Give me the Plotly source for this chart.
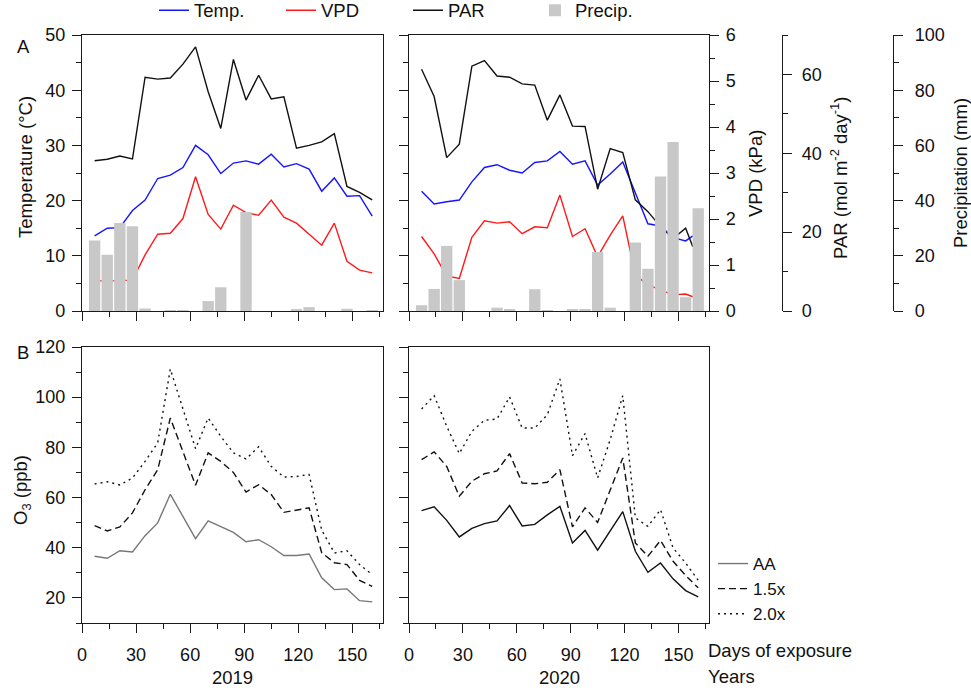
import plotly.graph_objects as go

# ---------------- data ----------------
days = [7, 14, 21, 28, 35, 42, 49, 56, 63, 70, 77, 84, 91, 98, 105, 112, 119, 126, 133, 140, 147, 154, 161]
days_met_2020 = [7, 14, 21, 28, 35, 42, 49, 56, 63, 70, 77, 84, 91, 98, 105, 112, 119, 126, 133, 140, 147, 154, 158]

temp_2019 = [13.6, 15.0, 15.1, 18.2, 20.1, 24.0, 24.6, 26.0, 30.0, 28.3, 24.9, 26.8, 27.2, 26.6, 28.4, 26.1, 26.7, 25.7, 21.7, 24.1, 20.8, 20.9, 17.2]
vpd_2019 = [0.66, 0.65, 0.66, 0.67, 1.22, 1.67, 1.69, 2.01, 2.92, 2.10, 1.78, 2.30, 2.14, 2.08, 2.41, 2.04, 1.91, 1.66, 1.43, 1.91, 1.08, 0.89, 0.83]
par_2019 = [38.1, 38.5, 39.3, 38.6, 59.3, 58.8, 59.1, 62.6, 67.0, 55.6, 46.3, 63.8, 53.5, 59.8, 53.8, 54.3, 41.3, 42.0, 42.9, 45.0, 31.6, 30.1, 28.2]
precip_2019 = [25.5, 20.4, 31.9, 30.7, 0.9, 0, 0.3, 0.3, 0, 3.6, 8.6, 0, 35.9, 0, 0, 0, 0.6, 1.4, 0, 0, 0.8, 0, 0.3]

temp_2020 = [21.7, 19.4, 19.8, 20.1, 23.4, 26.0, 26.5, 25.5, 25.0, 26.9, 27.2, 28.9, 26.6, 27.2, 22.8, 24.8, 27.0, 21.4, 15.8, 15.4, 13.3, 12.7, 13.6]
vpd_2020 = [1.62, 1.24, 0.76, 0.71, 1.60, 1.96, 1.91, 1.94, 1.68, 1.83, 1.81, 2.52, 1.62, 1.79, 1.18, 1.65, 2.07, 0.78, 0.57, 0.46, 0.35, 0.37, 0.31]
par_2020 = [61.3, 54.4, 38.9, 42.3, 62.1, 63.5, 59.6, 59.3, 57.6, 57.3, 48.4, 54.8, 46.9, 46.8, 30.9, 41.2, 40.2, 28.2, 25.2, 21.4, 18.4, 21.0, 16.3]
precip_2020 = [2.1, 8.0, 23.6, 11.2, 0, 0, 1.2, 0.5, 0, 7.9, 0.3, 0, 0.6, 0.7, 21.4, 1.2, 0, 24.8, 15.3, 48.7, 61.2, 5.0, 37.2]

o3_aa_2019 = [36.6, 35.8, 38.8, 38.3, 44.8, 49.9, 61.3, 52.5, 43.6, 50.7, 48.3, 46.1, 42.4, 43.2, 40.4, 36.9, 36.9, 37.5, 28.0, 23.3, 23.6, 18.9, 18.4]
o3_15_2019 = [48.8, 46.7, 48.3, 53.9, 63.1, 71.1, 91.7, 78.3, 64.9, 77.8, 74.4, 70.0, 62.2, 65.1, 61.2, 54.1, 54.9, 55.9, 38.0, 34.0, 33.3, 27.0, 24.6]
o3_20_2019 = [65.4, 66.3, 65.0, 67.8, 74.4, 81.8, 111.2, 95.0, 79.5, 91.7, 84.4, 77.8, 75.4, 80.2, 72.4, 68.2, 68.4, 69.2, 47.0, 37.9, 38.8, 33.3, 29.3]

o3_aa_2020 = [54.8, 56.3, 50.9, 44.3, 47.7, 49.6, 50.7, 56.8, 48.7, 49.3, 53.1, 56.5, 41.9, 46.9, 39.0, 46.5, 54.4, 38.6, 30.2, 33.9, 27.6, 22.9, 20.4]
o3_15_2020 = [75.1, 78.2, 72.4, 60.5, 66.5, 69.5, 70.6, 77.5, 65.8, 65.5, 66.1, 71.1, 48.3, 55.9, 50.1, 62.9, 75.8, 41.9, 36.6, 42.9, 34.6, 28.9, 24.0]
o3_20_2020 = [95.3, 100.6, 88.4, 77.5, 86.4, 90.8, 91.3, 100.1, 87.7, 87.7, 93.0, 107.3, 76.7, 85.5, 67.8, 83.1, 100.6, 51.9, 48.5, 55.2, 39.9, 33.9, 27.0]

x_ticks = [0, 30, 60, 90, 120, 150]
year_labels = ["2019", "2020"]

# ---------------- styles ----------------
W, H = 971, 694
FONT = "Liberation Sans, Arial, sans-serif"
FS = 18        # tick labels
FT = 18.5      # titles / legend
AX = "#1a1a1a"
BLUE, RED, BLACK, GREY = "#1515ff", "#ff1a1a", "#111111", "#c8c8c8"

def px(x):
    return x / W

def py(y):
    return 1 - y / H

fig = go.Figure()

# ---- top panels: weather ----
for i, (t, v, p, pr, dm) in enumerate([
        (temp_2019, vpd_2019, par_2019, precip_2019, days),
        (temp_2020, vpd_2020, par_2020, precip_2020, days_met_2020)]):
    xa = "x" if i == 0 else "x2"
    ys = ["y", "y3", "y4", "y5"] if i == 0 else ["y2", "y6", "y7", "y8"]
    show = i == 0
    fig.add_trace(go.Scatter(x=dm, y=t, mode="lines", name="Temp.", line=dict(color=BLUE, width=1.4),
                             xaxis=xa, yaxis=ys[0], showlegend=show, legendrank=1))
    fig.add_trace(go.Scatter(x=dm, y=v, mode="lines", name="VPD", line=dict(color=RED, width=1.4),
                             xaxis=xa, yaxis=ys[1], showlegend=show, legendrank=2))
    fig.add_trace(go.Scatter(x=dm, y=p, mode="lines", name="PAR", line=dict(color=BLACK, width=1.4),
                             xaxis=xa, yaxis=ys[2], showlegend=show, legendrank=3))
    fig.add_trace(go.Bar(x=days, y=pr, name="Precip.", marker=dict(color=GREY, line=dict(width=0)), width=6.3,
                         xaxis=xa, yaxis=ys[3], showlegend=show, legendrank=4))

# ---- bottom panels: O3 ----
for i, (aa, a15, a20) in enumerate([(o3_aa_2019, o3_15_2019, o3_20_2019),
                                     (o3_aa_2020, o3_15_2020, o3_20_2020)]):
    xa = "x3" if i == 0 else "x4"
    ya = "y9" if i == 0 else "y10"
    show = i == 0
    aa_col = "#777777" if i == 0 else BLACK
    fig.add_trace(go.Scatter(x=days, y=aa, mode="lines", name="AA", line=dict(color=aa_col, width=1.4),
                             xaxis=xa, yaxis=ya, showlegend=show, legend="legend2"))
    fig.add_trace(go.Scatter(x=days, y=a15, mode="lines", name="1.5x", line=dict(color=BLACK, width=1.4, dash="7px,4px"),
                             xaxis=xa, yaxis=ya, showlegend=show, legend="legend2"))
    fig.add_trace(go.Scatter(x=days, y=a20, mode="lines", name="2.0x", line=dict(color=BLACK, width=1.4, dash="2px,4px"),
                             xaxis=xa, yaxis=ya, showlegend=show, legend="legend2"))

base = dict(showline=True, linecolor=AX, linewidth=1.2, ticks="outside", ticklen=9, tickwidth=1.2,
            tickcolor=AX, showgrid=False, zeroline=False, tickfont=dict(size=FS, color="#111"),
            ticklabelstandoff=3)

def minor(d, ln=5):
    return dict(dtick=d, ticks="outside", ticklen=ln, tickwidth=1.2, tickcolor=AX, showgrid=False)

xd_left = [px(82), px(383)]
xd_right = [px(409), px(709)]
yd_top = [py(311), py(35)]
yd_bot = [py(623), py(347)]
XR = [0, 167]

xcommon = dict(base, range=XR, tickmode="array", tickvals=x_ticks, minor=minor(15), mirror=True,
               ticklabelstandoff=6)

fig.update_layout(
    width=W, height=H, margin=dict(l=0, r=0, t=0, b=0, autoexpand=False),
    paper_bgcolor="white", plot_bgcolor="white",
    font=dict(family=FONT, size=FS, color="#111"),
    barmode="overlay",
    xaxis=dict(xcommon, domain=xd_left, anchor="y", showticklabels=False),
    xaxis2=dict(xcommon, domain=xd_right, anchor="y2", showticklabels=False),
    xaxis3=dict(xcommon, domain=xd_left, anchor="y9", ticktext=[str(v) for v in x_ticks]),
    xaxis4=dict(xcommon, domain=xd_right, anchor="y10", ticktext=[str(v) for v in x_ticks]),
    yaxis=dict(base, domain=yd_top, anchor="x", range=[0, 50], dtick=10, minor=minor(5), mirror=True),
    yaxis2=dict(base, domain=yd_top, anchor="x2", range=[0, 50], dtick=10, minor=minor(5), mirror=True,
                showticklabels=False),
    yaxis3=dict(overlaying="y", anchor="x", range=[0, 6], visible=False),
    yaxis4=dict(overlaying="y", anchor="x", range=[0, 70], visible=False),
    yaxis5=dict(overlaying="y", anchor="x", range=[0, 100], visible=False),
    yaxis6=dict(base, overlaying="y2", anchor="x2", side="right", range=[0, 6], dtick=1, minor=minor(0.5)),
    yaxis7=dict(base, overlaying="y2", anchor="free", position=px(782), side="right", range=[0, 70],
                tick0=0, dtick=20, minor=minor(10), ticklabelstandoff=6),
    yaxis8=dict(base, overlaying="y2", anchor="free", position=px(893), side="right", range=[0, 100],
                tick0=0, dtick=20, minor=minor(10), ticklabelstandoff=8),
    yaxis9=dict(base, domain=yd_bot, anchor="x3", range=[10, 120], tick0=0, dtick=20, minor=minor(10), mirror=True),
    yaxis10=dict(base, domain=yd_bot, anchor="x4", range=[10, 120], tick0=0, dtick=20, minor=minor(10), mirror=True,
                 showticklabels=False),
    legend=dict(orientation="h", x=px(154), y=1.012, xanchor="left", yanchor="top",
                font=dict(size=FT), entrywidth=82, entrywidthmode="pixels",
                bgcolor="rgba(0,0,0,0)", traceorder="normal"),
    legend2=dict(orientation="v", x=px(713), y=py(546), xanchor="left", yanchor="top",
                 font=dict(size=17), bgcolor="rgba(0,0,0,0)", tracegroupgap=0),
    showlegend=True,
)

ann = [
    dict(text="A", x=px(23), y=py(46)),
    dict(text="B", x=px(23), y=py(352)),
    dict(text="Temperature (°C)", x=px(25), y=py(167), textangle=-90),
    dict(text="O<sub>3</sub> (ppb)", x=px(22), y=py(490), textangle=-90),
    dict(text="VPD (kPa)", x=px(756), y=py(174), textangle=-90),
    dict(text="PAR (mol m<sup>-2</sup> day<sup>-1</sup>)", x=px(839), y=py(178), textangle=-90),
    dict(text="Precipitation (mm)", x=px(960), y=py(173), textangle=-90),
    dict(text="Days of exposure", x=px(706), y=py(650), xanchor="left"),
    dict(text="Years", x=px(706), y=py(676), xanchor="left"),
    dict(text=year_labels[0], x=px(232), y=py(677)),
    dict(text=year_labels[1], x=px(559), y=py(677)),
]
for a in ann:
    a.setdefault("xanchor", "center")
    fig.add_annotation(xref="paper", yref="paper", showarrow=False, yanchor="middle",
                       font=dict(size=FT, family=FONT, color="#111"), **a)

fig.write_html(
    "out.html",
    config={"responsive": False, "displayModeBar": False},
    post_script="document.body.style.margin='0px';document.body.style.padding='0px';"
                "document.documentElement.style.overflow='hidden';",
)
